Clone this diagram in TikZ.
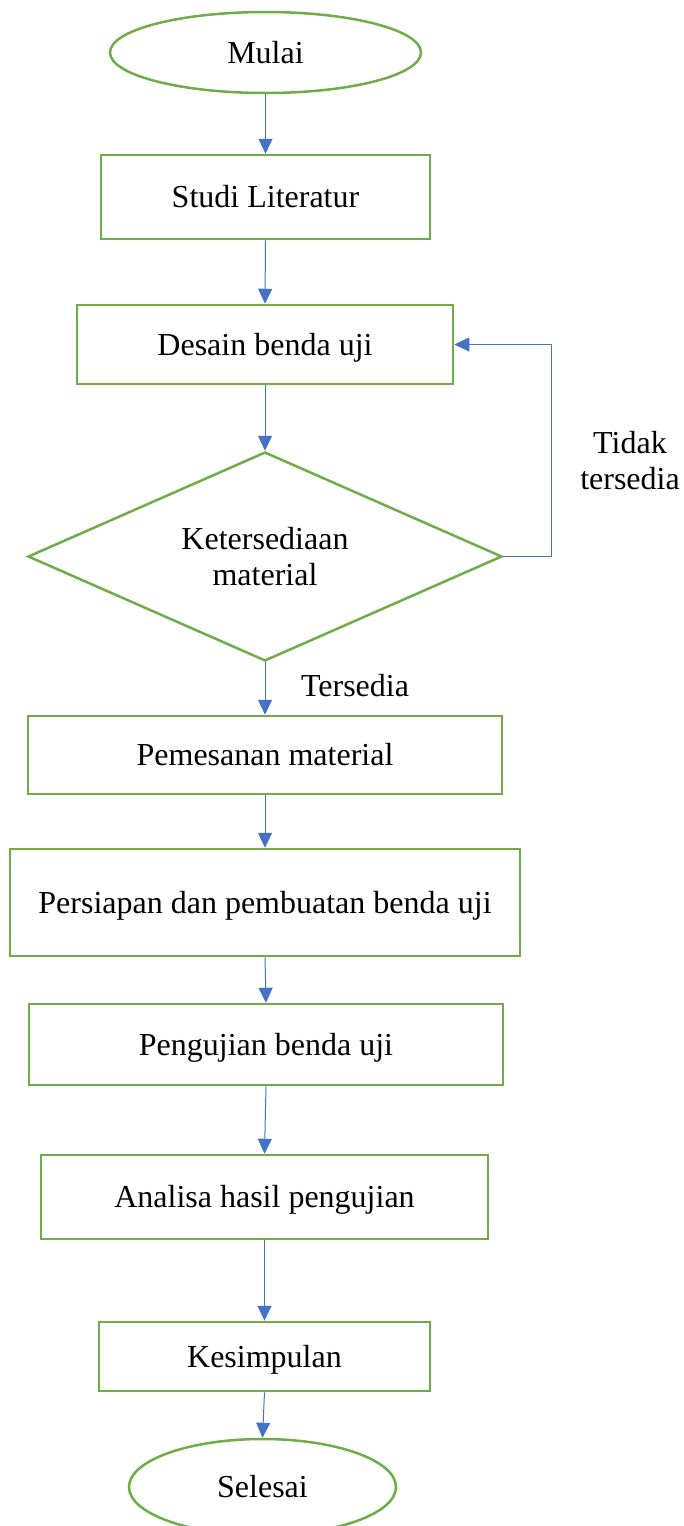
\documentclass[tikz,border=0pt]{standalone}
\usepackage{fontspec}
\setmainfont{Liberation Serif}
\usetikzlibrary{shapes.geometric,arrows.meta}
\definecolor{gr}{HTML}{70AD47}
\definecolor{bl}{HTML}{4472C4}
\tikzset{
  stepbox/.style={draw=gr, line width=2.5pt, rectangle, inner sep=0pt, align=center, text height=28pt, text depth=7pt},
  term/.style={draw=gr, line width=2.5pt, ellipse, inner sep=0pt, text height=28pt, text depth=7pt},
  decide/.style={draw=gr, line width=2.5pt, diamond, inner sep=0pt, shape aspect=2.27, align=center},
  lbl/.style={inner sep=0pt, align=center},
  arr/.style={draw=bl, line width=1pt, -{Triangle[length=15pt,width=14pt]}},
}
\begin{document}
\begin{tikzpicture}[x=1pt,y=-1pt,font=\fontsize{32}{36}\selectfont]
\useasboundingbox (0,0) rectangle (683,1526);
\clip (0,0) rectangle (683,1526);
\node[term, minimum width=311pt, minimum height=81pt] (mulai) at (265.5,52.5) {Mulai};
\node[stepbox, minimum width=329pt, minimum height=84pt] (studi) at (265.5,197) {Studi Literatur};
\node[stepbox, minimum width=376pt, minimum height=79pt] (desain) at (265,344.5) {Desain benda uji};
\node[decide, minimum width=474pt, minimum height=209pt] (dia) at (265,556.5) {Ketersediaan\\material};
\node[stepbox, minimum width=474pt, minimum height=78pt] (pesan) at (265,755) {Pemesanan material};
\node[stepbox, minimum width=510pt, minimum height=107pt] (siap) at (265,902.5) {Persiapan dan pembuatan benda uji};
\node[stepbox, minimum width=474pt, minimum height=81pt] (uji) at (266,1044.5) {Pengujian benda uji};
\node[stepbox, minimum width=447pt, minimum height=84pt] (analisa) at (264.5,1197) {Analisa hasil pengujian};
\node[stepbox, minimum width=331pt, minimum height=69pt] (simpul) at (264.5,1356.5) {Kesimpulan};
\node[term, minimum width=267pt, minimum height=96pt] (selesai) at (262.5,1487) {Selesai};
\node[lbl] (tidak) at (630,461) {Tidak\\tersedia};
\node[lbl] (ada) at (355,686) {Tersedia};
\draw[arr] (mulai.south) -- (studi.north);
\draw[arr] (studi.south) -- (desain.north);
\draw[arr] (desain.south) -- (dia.north);
\draw[arr] (dia.south) -- (pesan.north);
\draw[arr] (pesan.south) -- (siap.north);
\draw[arr] (siap.south) -- (uji.north);
\draw[arr] (uji.south) -- (analisa.north);
\draw[arr] (analisa.south) -- (simpul.north);
\draw[arr] (simpul.south) -- (selesai.north);
\draw[arr] (dia.east) -- ++(48,0) |- (desain.east);
\end{tikzpicture}
\end{document}
